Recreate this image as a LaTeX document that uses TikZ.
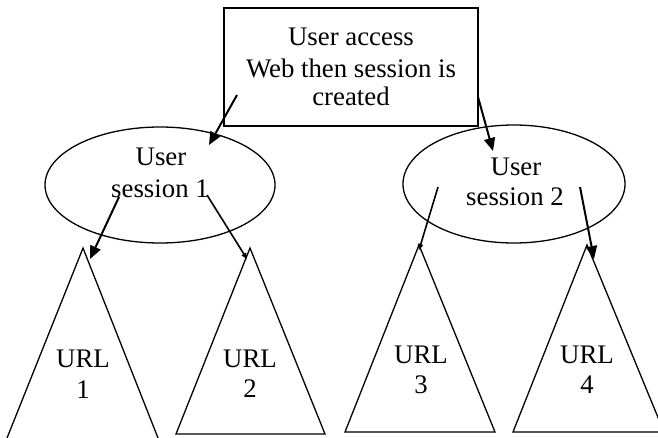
\documentclass[tikz,border=0pt]{standalone}
\usepackage{fontspec}
\setmainfont{Liberation Serif}
\usetikzlibrary{shapes.geometric,arrows.meta}
\begin{document}
\begin{tikzpicture}[x=1pt,y=-1pt,
  shapeline/.style={draw=black,line width=1.3pt},
  lbl/.style={font=\fontsize{26.8}{30}\selectfont,inner sep=0pt,anchor=base},
  conn/.style={draw=black,line width=2pt,-{Triangle[length=13pt,width=11pt]}},
  connthin/.style={draw=black,line width=1.6pt,-{Triangle[length=6pt,width=5pt]}}]
\useasboundingbox (0,0) rectangle (658,437);
% top box
\node[shapeline,rectangle,minimum width=254pt,minimum height=118pt,inner sep=0pt] (box) at (351,67) {};
\node[lbl] (b1) at (351,45) {User access};
\node[lbl] (b2) at (351,77) {Web then session is};
\node[lbl] (b3) at (351,105) {created};
% ellipses
\node[shapeline,ellipse,minimum width=230pt,minimum height=116pt,inner sep=0pt] (s1) at (160,185) {};
\node[lbl] (s1a) at (161,165) {User};
\node[lbl] (s1b) at (160,197) {session 1};
\node[shapeline,ellipse,minimum width=222pt,minimum height=118pt,inner sep=0pt] (s2) at (514,184) {};
\node[lbl] (s2a) at (516,175) {User};
\node[lbl] (s2b) at (515,205) {session 2};
% triangles
\coordinate (t1) at (83,248);
\coordinate (t2) at (250,248);
\coordinate (t3) at (419,245);
\coordinate (t4) at (587,245);
\draw[shapeline] (5,443) -- (t1) -- (160,443);
\draw[shapeline] (176,434) -- (t2) -- (325,434) -- cycle;
\draw[shapeline] (345,432) -- (t3) -- (495,432) -- cycle;
\draw[shapeline] (513,432) -- (t4) -- (664,432) -- cycle;
\node[lbl] (u1) at (83,367) {URL};
\node[lbl] (n1) at (83,398) {1};
\node[lbl] (u2) at (250,367) {URL};
\node[lbl] (n2) at (250,397) {2};
\node[lbl] (u3) at (421,363) {URL};
\node[lbl] (n3) at (421,393) {3};
\node[lbl] (u4) at (587,363) {URL};
\node[lbl] (n4) at (587,393) {4};
% connector start/end points
\coordinate (a1s) at (237,95);
\coordinate (a1e) at (209,145);
\coordinate (a2s) at (478,97);
\coordinate (a2e) at (493,151);
\coordinate (a3s) at (119,197);
\coordinate (a3e) at (90,259);
\coordinate (a4s) at (207,195);
\coordinate (a4e) at (247,259);
\coordinate (a5s) at (438,187);
\coordinate (a5e) at (419,250);
\coordinate (a6s) at (580,187);
\coordinate (a6e) at (594,259);
\draw[conn] (a1s) -- (a1e);
\draw[conn] (a2s) -- (a2e);
\draw[conn] (a3s) -- (a3e);
\draw[connthin] (a4s) -- (a4e);
\draw[connthin] (a5s) -- (a5e);
\draw[conn] (a6s) -- (a6e);
\end{tikzpicture}
\end{document}
